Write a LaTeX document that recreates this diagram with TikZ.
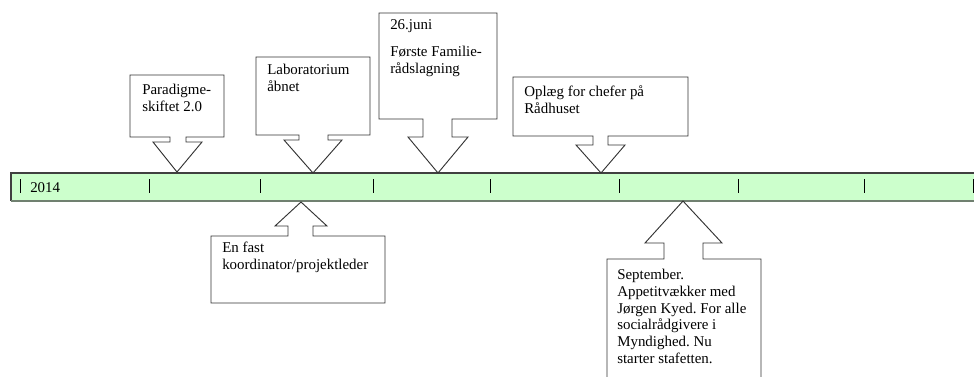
\documentclass[tikz,border=0pt]{standalone}
\usepackage{fontspec}
\setmainfont{Liberation Serif}
\frenchspacing

\definecolor{barfill}{RGB}{204,255,204}
\definecolor{barline}{RGB}{112,128,112}

\begin{document}
\begin{tikzpicture}[x=0.75pt, y=-0.75pt,
    callout/.style={draw=black!80, fill=white, line width=0.7pt, line join=miter},
    label/.style={anchor=base west, inner sep=0pt, align=left, font=\fontsize{11.2}{12.5}\selectfont},
    tick/.style={draw=black, line width=0.75pt}]
  \useasboundingbox (0,0) rectangle (974,376);
  \clip (0,0) rectangle (974,376);

  % timeline bar
  \fill[barfill] (11,173) rectangle (980,201);
  \draw[black!75, line width=0.8pt] (980,173) -- (11,173) -- (11,201);
  \draw[barline, line width=1.5pt] (11,200.5) -- (980,200.5);
  \foreach \tx in {20,149,260,373,490,619,738,864,973}
    \draw[tick] (\tx,179) -- (\tx,193);
  \node[label] (year) at (30,192) {2014};

  % callouts above the bar (labels sit on the baseline of their last line)
  \draw[callout] (130,75) -- (224,75) -- (224,137) -- (186,137) -- (186,142) -- (202,142)
    -- (177,172) -- (153,142) -- (170,142) -- (170,137) -- (130,137) -- cycle;
  \node[label] (paradigme) at (142,111) {Paradigme-\\skiftet 2.0};

  \draw[callout] (256,57) -- (370,57) -- (370,135) -- (328,135) -- (328,140) -- (342,140)
    -- (313,173) -- (284,140) -- (299,140) -- (299,135) -- (256,135) -- cycle;
  \node[label] (lab) at (267,91) {Laboratorium\\åbnet};

  \draw[callout] (379,13) -- (497,13) -- (497,119) -- (452,119) -- (452,137) -- (468,137)
    -- (438,173) -- (408,137) -- (423,137) -- (423,119) -- (379,119) -- cycle;
  \node[label] (juni) at (390,73) {26.juni\\[7.5pt]Første Familie-\\rådslagning};

  \draw[callout] (513,77) -- (688,77) -- (688,136) -- (608,136) -- (608,145) -- (625,145)
    -- (601,173) -- (576,145) -- (593,145) -- (593,136) -- (513,136) -- cycle;
  \node[label] (oplaeg) at (524,113) {Oplæg for chefer på\\Rådhuset};

  % callouts below the bar
  \draw[callout] (211,303) -- (385,303) -- (385,236) -- (313,236) -- (313,226) -- (327,226)
    -- (301,202) -- (275,226) -- (288,226) -- (288,236) -- (211,236) -- cycle;
  \node[label] (koordinator) at (222,269) {En fast\\koordinator/projektleder};

  \draw[callout] (607,390) -- (761,390) -- (761,259) -- (703,259) -- (703,243) -- (722,243)
    -- (683,201) -- (645,243) -- (664,243) -- (664,259) -- (607,259) -- cycle;
  \node[label] (september) at (617,363) {September.\\Appetitvækker med\\Jørgen Kyed. For alle\\socialrådgivere i\\Myndighed. Nu\\starter stafetten.};
\end{tikzpicture}
\end{document}
